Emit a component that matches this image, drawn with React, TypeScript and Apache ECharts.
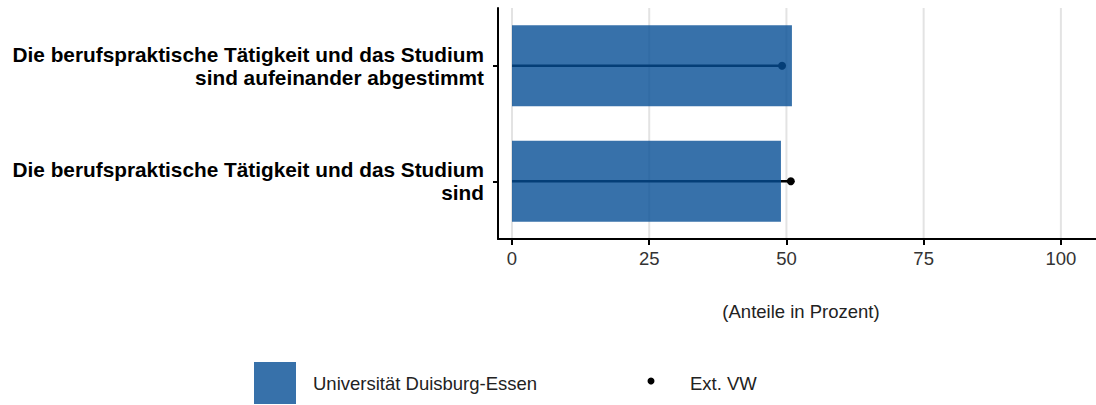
import React, { useEffect, useRef } from "react";
import * as echarts from "echarts";

const categories = [
  "Die berufspraktische Tätigkeit und das Studium\nsind aufeinander abgestimmt",
  "Die berufspraktische Tätigkeit und das Studium\nsind",
];
const udeValues = [51.0, 49.0];
const extValues = [49.2, 50.8];
const tickValues = [0, 25, 50, 75, 100];
const legendNames = ["Universität Duisburg-Essen", "Ext. VW"];
const axisTitle = "(Anteile in Prozent)";

const BAR = "#3771aa";

export default function App() {
  const ref = useRef<HTMLDivElement>(null);
  useEffect(() => {
    if (!ref.current) return;
    const chart = echarts.init(ref.current, null, { renderer: "svg" });
    const font = "'Liberation Sans', Arial, sans-serif";
    chart.setOption({
      animation: false,
      grid: { left: 498, right: 0, top: 8, bottom: 166, containLabel: false },
      xAxis: {
        type: "value",
        min: -2.55,
        max: 106.4,
        axisLine: { show: true, onZero: false, lineStyle: { color: "#000", width: 2 } },
        axisTick: { show: true, customValues: tickValues, length: 6, lineStyle: { color: "#000", width: 2 } },
        axisLabel: { customValues: tickValues, color: "#333", fontSize: 18.5, fontFamily: font, margin: 10 },
        splitLine: { show: false },
      },
      yAxis: {
        type: "category",
        data: categories,
        inverse: true,
        axisLine: { show: true, onZero: false, lineStyle: { color: "#000", width: 2 } },
        axisTick: { show: true, alignWithLabel: true, length: 5, lineStyle: { color: "#000", width: 2 } },
        axisLabel: {
          color: "#000",
          fontSize: 20.8,
          fontWeight: "bold",
          fontFamily: font,
          lineHeight: 23,
          align: "right",
          margin: 14,
        },
      },
      series: [
        {
          type: "custom",
          name: "grid",
          silent: true,
          z: 0,
          data: tickValues.map((v) => [v]),
          renderItem: (params: any, api: any) => {
            const v = api.value(0);
            const p = api.coord([v, 0]);
            const cs = params.coordSys;
            return {
              type: "line",
              shape: { x1: p[0], y1: cs.y, x2: p[0], y2: cs.y + cs.height },
              style: { stroke: "#e3e3e3", lineWidth: 2 },
            };
          },
          encode: { x: 0 },
        },
        {
          type: "custom",
          name: legendNames[1],
          z: 2,
          data: extValues.map((v, i) => [v, i]),
          renderItem: (params: any, api: any) => {
            const v = api.value(0);
            const c = api.value(1);
            const p0 = api.coord([0, c]);
            const p1 = api.coord([v, c]);
            return {
              type: "group",
              children: [
                {
                  type: "line",
                  shape: { x1: p0[0], y1: p0[1], x2: p1[0], y2: p1[1] },
                  style: { stroke: "#000", lineWidth: 2.5 },
                },
                {
                  type: "circle",
                  shape: { cx: p1[0], cy: p1[1], r: 4 },
                  style: { fill: "#000" },
                },
              ],
            };
          },
          encode: { x: 0, y: 1 },
        },
        {
          type: "bar",
          name: legendNames[0],
          z: 3,
          data: udeValues,
          barWidth: "70%",
          itemStyle: { color: "rgb(5,78,149)", opacity: 0.8 },
        },
      ],
      graphic: [
        {
          type: "text",
          x: 801,
          y: 311,
          style: { text: axisTitle, fill: "#222", fontSize: 18.5, fontFamily: font, align: "center", verticalAlign: "middle" },
        },
        {
          type: "rect",
          shape: { x: 254, y: 362, width: 42, height: 42 },
          style: { fill: BAR },
        },
        {
          type: "text",
          x: 313,
          y: 383,
          style: { text: legendNames[0], fill: "#222", fontSize: 18.5, fontFamily: font, verticalAlign: "middle" },
        },
        {
          type: "circle",
          shape: { cx: 651, cy: 381, r: 3.5 },
          style: { fill: "#000" },
        },
        {
          type: "text",
          x: 690,
          y: 383,
          style: { text: legendNames[1], fill: "#222", fontSize: 18.5, fontFamily: font, verticalAlign: "middle" },
        },
      ],
    });
    return () => chart.dispose();
  }, []);
  return <div ref={ref} style={{ width: 1096, height: 405, position: "absolute", left: 0, top: 0 }} />;
}
